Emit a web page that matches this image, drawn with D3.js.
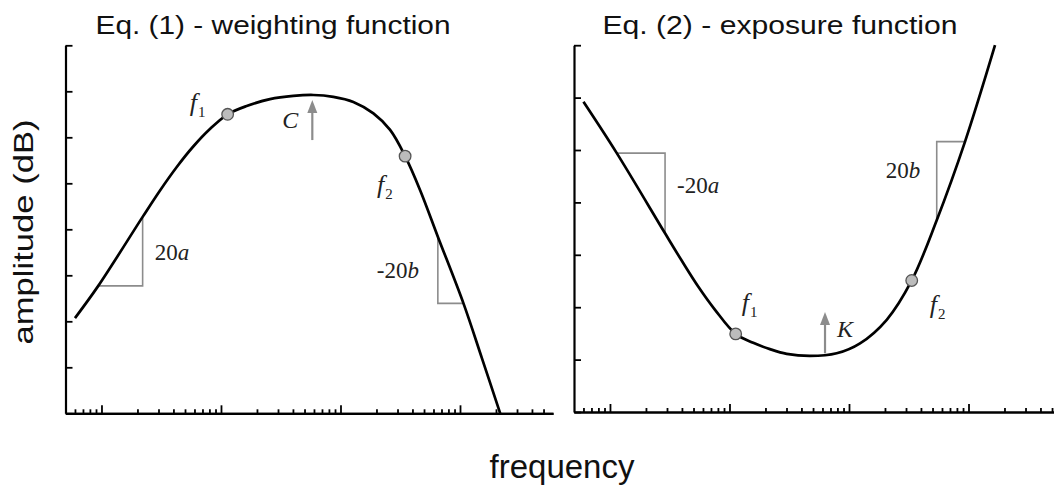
<!DOCTYPE html>
<html><head><meta charset="utf-8">
<script src="https://cdn.jsdelivr.net/npm/d3@7"></script>
<style>body{margin:0;background:#fff}svg{display:block}</style>
</head><body>
<svg id="c" width="1054" height="486"></svg>
<script>
// ---- data ----
const panelTitles = ["Eq. (1) - weighting function", "Eq. (2) - exposure function"];
const xLabel = "frequency";
const yLabel = "amplitude (dB)";
const freqDomain = [5, 60000];
const majorTicks = [10, 100, 1000, 10000];
const minorMultipliers = [2, 3, 4, 5, 6, 7, 8, 9];
const weightYTicks = [0, 10, 20, 30, 40, 50, 60, 70, 80];
const exposureYTicks = [0, 10, 20, 30, 40, 50, 60, 70];

const weightFreq = [6.0, 9.4, 22.1, 30.8, 42.5, 58.6, 80.8, 113.7, 164, 257, 403, 593, 871, 1281, 1885, 2601, 3473, 4638, 6525, 10690, 15245, 21690];
const weightAmp  = [20.7, 27.7, 42.7, 48.4, 53.5, 58.0, 61.8, 65.0, 66.8, 68.3, 69.0, 69.2, 68.8, 67.7, 65.2, 61.6, 55.9, 48.5, 38.4, 23.9, 12.0, 0];

const exposureFreq = [6.0, 11.4, 28.9, 39.8, 54.9, 75.7, 112.7, 158, 218, 301, 472, 789, 1237, 2069, 3349, 5421, 9354, 16670];
const exposureAmp  = [59.2, 49.4, 34.1, 28.9, 23.9, 19.5, 14.9, 13.2, 12.0, 11.1, 10.7, 11.2, 13.1, 17.6, 25.1, 36.6, 51.6, 70.0];

const weightMarkerFreq = [113.7, 3473];
const weightMarkerAmp = [65.0, 55.9];
const exposureMarkerFreq = [112.7, 3349];
const exposureMarkerAmp = [14.9, 25.1];

// slope triangles: [freq, amp] vertices
const weightTriA = [[9.4, 27.7], [22.1, 27.7], [22.1, 42.7]];
const weightTriB = [[6525, 38.4], [6525, 23.9], [10690, 23.9]];
const exposureTriA = [[11.4, 49.4], [28.9, 49.4], [28.9, 34.1]];
const exposureTriB = [[5421, 36.6], [5421, 51.6], [9354, 51.6]];

// shift arrows: [freq, fromAmp, toAmp]
const weightArrow = [581, 59.4, 68.1];
const exposureArrow = [630, 11.2, 19.1];

// ---- drawing ----
const svg = d3.select("#c");
const FONT = "'Liberation Sans', Arial, sans-serif";
const SERIF = "'Liberation Serif', 'Times New Roman', serif";

const panels = [
  {x0: 65.5, x1: 553, yb: 413.3, yt: 45.3, ymax: 80, yticks: weightYTicks,
   freq: weightFreq, amp: weightAmp, mf: weightMarkerFreq, ma: weightMarkerAmp,
   tris: [weightTriA, weightTriB], arrow: weightArrow, title: panelTitles[0], tx: 273},
  {x0: 574, x1: 1061.5, yb: 412, yt: 45.2, ymax: 70, yticks: exposureYTicks,
   freq: exposureFreq, amp: exposureAmp, mf: exposureMarkerFreq, ma: exposureMarkerAmp,
   tris: [exposureTriA, exposureTriB], arrow: exposureArrow, title: panelTitles[1], tx: 780}
];

const minorTicks = [];
majorTicks.concat([1]).forEach(d => minorMultipliers.forEach(m => {
  const v = d * m; if (v > freqDomain[0] && v < freqDomain[1] && !majorTicks.includes(v)) minorTicks.push(v);
}));

panels.forEach((p, i) => {
  const x = d3.scaleLog().domain(freqDomain).range([p.x0, p.x1]);
  const y = d3.scaleLinear().domain([0, p.ymax]).range([p.yb, p.yt]);
  p.x = x; p.y = y;
  const g = svg.append("g");

  const xm = g.append("g").attr("transform", `translate(0,${p.yb})`)
    .call(d3.axisBottom(x).tickValues(minorTicks).tickSize(-4).tickSizeOuter(0).tickFormat(""));
  const xM = g.append("g").attr("transform", `translate(0,${p.yb})`)
    .call(d3.axisBottom(x).tickValues(majorTicks).tickSize(-8).tickSizeOuter(0).tickFormat(""));
  const ya = g.append("g").attr("transform", `translate(${p.x0},0)`)
    .call(d3.axisLeft(y).tickValues(p.yticks).tickSize(-7).tickSizeOuter(0).tickFormat(""));
  [xm, xM, ya].forEach(a => {
    a.select(".domain").attr("stroke", "#000").attr("stroke-width", 2.2);
    a.selectAll(".tick line").attr("stroke", "#000").attr("stroke-width", 1.8);
  });

  const tline = d3.line().x(d => x(d[0])).y(d => y(d[1]));
  p.tris.forEach(t => g.append("path").attr("d", tline(t))
    .attr("fill", "none").attr("stroke", "#8c8c8c").attr("stroke-width", 1.6));

  const line = d3.line().x((d, k) => x(p.freq[k])).y((d, k) => y(p.amp[k]))
    .curve(d3.curveCatmullRom.alpha(0.5));
  g.append("path").attr("d", line(p.freq)).attr("fill", "none")
    .attr("stroke", "#000").attr("stroke-width", 2.7);

  const ax = x(p.arrow[0]), ay0 = y(p.arrow[1]), ay1 = y(p.arrow[2]);
  g.append("line").attr("x1", ax).attr("x2", ax).attr("y1", ay0).attr("y2", ay1 + 10)
    .attr("stroke", "#8c8c8c").attr("stroke-width", 2.2);
  g.append("path").attr("d", `M${ax},${ay1} L${ax - 5},${ay1 + 13} L${ax + 5},${ay1 + 13} Z`)
    .attr("fill", "#8c8c8c");

  p.mf.forEach((f, k) => g.append("circle").attr("cx", x(f)).attr("cy", y(p.ma[k])).attr("r", 5.8)
    .attr("fill", "#bcbcbc").attr("stroke", "#555").attr("stroke-width", 1.3));

  svg.append("text").attr("x", p.tx).attr("y", 34).attr("text-anchor", "middle")
    .attr("font-family", FONT).attr("font-size", 26.5).attr("fill", "#111")
    .attr("textLength", 355).attr("lengthAdjust", "spacingAndGlyphs").text(p.title);
});

function italicLabel(xp, yp, main, sub, opts = {}) {
  const t = svg.append("text").attr("x", xp).attr("y", yp).attr("font-family", SERIF)
    .attr("font-size", opts.size || 26).attr("fill", "#222");
  if (opts.prefix) t.append("tspan").attr("font-style", "normal").text(opts.prefix);
  t.append("tspan").attr("font-style", "italic").text(main);
  if (sub) t.append("tspan").attr("font-size", 15).attr("dy", 6).attr("dx", 1).text(sub);
  return t;
}
const L = panels[0], R = panels[1];
italicLabel(L.x(weightMarkerFreq[0]) - 38, L.y(weightMarkerAmp[0]) - 3, "f", "1");
italicLabel(L.x(weightMarkerFreq[1]) - 28, L.y(weightMarkerAmp[1]) + 37, "f", "2");
italicLabel(L.x(weightArrow[0]) - 30, L.y(weightArrow[1]) - 12, "C", null, {size: 24});
italicLabel(L.x(weightTriA[1][0]) + 12, 260, "a", null, {prefix: "20", size: 23});
italicLabel(L.x(weightTriB[0][0]) - 61, 278, "b", null, {prefix: "-20", size: 23});
italicLabel(R.x(exposureMarkerFreq[0]) + 6, R.y(exposureMarkerAmp[0]) - 23, "f", "1");
italicLabel(R.x(exposureMarkerFreq[1]) + 18, R.y(exposureMarkerAmp[1]) + 33, "f", "2");
italicLabel(R.x(exposureArrow[0]) + 12, 337, "K", null, {size: 24});
italicLabel(R.x(exposureTriA[1][0]) + 12, 193, "a", null, {prefix: "-20", size: 23});
italicLabel(R.x(exposureTriB[0][0]) - 51, 178, "b", null, {prefix: "20", size: 23});

svg.append("text").attr("transform", "translate(33,232) rotate(-90)").attr("text-anchor", "middle")
  .attr("font-family", FONT).attr("font-size", 28).attr("fill", "#111")
  .attr("textLength", 225).attr("lengthAdjust", "spacingAndGlyphs").text(yLabel);
svg.append("text").attr("x", 562).attr("y", 478).attr("text-anchor", "middle")
  .attr("font-family", FONT).attr("font-size", 33).attr("fill", "#111").text(xLabel);
</script>
</body></html>
